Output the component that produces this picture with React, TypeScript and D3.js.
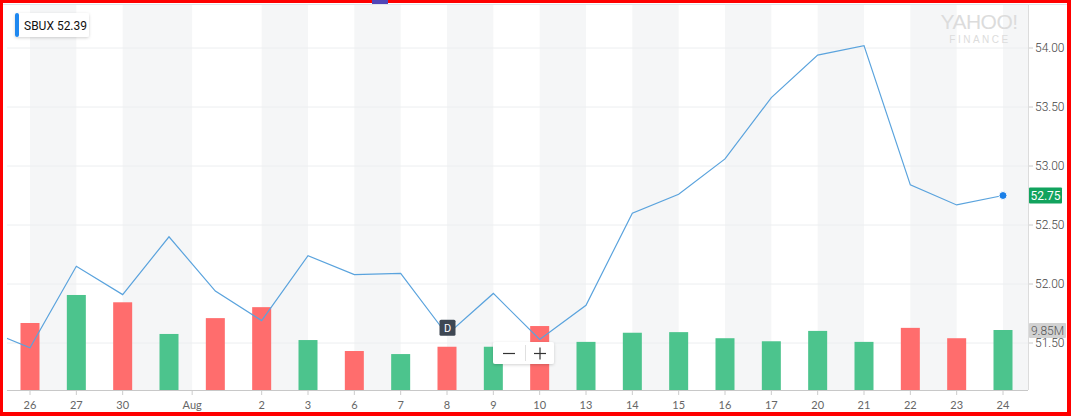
import React from "react";
import * as d3 from "d3";

const dates = ["Jul 26","Jul 27","Jul 30","Jul 31","Aug 1","Aug 2","Aug 3","Aug 6","Aug 7","Aug 8","Aug 9","Aug 10","Aug 13","Aug 14","Aug 15","Aug 16","Aug 17","Aug 20","Aug 21","Aug 22","Aug 23","Aug 24"];
const prevClose = 51.62;
const closes = [51.46,52.15,51.91,52.40,51.94,51.69,52.24,52.08,52.09,51.57,51.92,51.53,51.82,52.60,52.76,53.06,53.58,53.94,54.02,52.84,52.67,52.75];
const volumesM = [11.0,15.6,14.4,9.2,11.8,13.6,8.2,6.4,5.9,7.1,7.1,10.5,7.9,9.4,9.5,8.5,8.0,9.7,7.9,10.2,8.5,9.85];
const tickIndex = [0,1,2,3.5,5,6,7,8,9,10,11,12,13,14,15,16,17,18,19,20,21];
const tickLabels = ["26","27","30","Aug","2","3","6","7","8","9","10","13","14","15","16","17","20","21","22","23","24"];
const priceTicks = [51.5,52.0,52.5,53.0,53.5,54.0];
const dividendIndex = 9;

const W = 1071, H = 416;
const plotL = 7, plotR = 1028, plotT = 5, plotB = 390;

export default function App() {
  const x = d3.scaleLinear().domain([0, dates.length - 1]).range([30, 1003]);
  const y = d3.scaleLinear().domain([51.5, 54]).range([343, 48]);
  const v = d3.scaleLinear().domain([0, 9.85]).range([plotB, 330]);

  const pts: [number, number][] = [[-1, prevClose], ...closes.map((c, i) => [i, c] as [number, number])];
  const line = d3.line<[number, number]>().x(d => x(d[0])).y(d => y(d[1]));

  const bands: { x0: number; x1: number; gray: boolean }[] = [];
  const tickXs = [...tickIndex.map(t => x(t)), plotR];
  for (let i = 0; i < tickXs.length - 1; i++) {
    bands.push({ x0: tickXs[i], x1: tickXs[i + 1], gray: i % 2 === 0 });
  }

  const last = closes.length - 1;
  const barW = 19;

  return (
    <svg width={W} height={H} style={{ position: "absolute", left: 0, top: 0 }} fontFamily="Roboto, 'Helvetica Neue', Arial, sans-serif">
      <defs>
        <clipPath id="plot"><rect x={plotL} y={plotT} width={plotR - plotL} height={plotB - plotT} /></clipPath>
        <filter id="sh" x="-20%" y="-30%" width="140%" height="160%">
          <feDropShadow dx="0" dy="1" stdDeviation="1.5" floodColor="#000" floodOpacity="0.18" />
        </filter>
      </defs>
      <rect x={0} y={0} width={W} height={H} fill="#ff0000" />
      <rect x={3} y={3} width={W - 7} height={H - 7} fill="#ffffff" />
      <line x1={3} x2={W - 4} y1={4.5} y2={4.5} stroke="#dfe5ec" />
      <rect x={372} y={0} width={16} height={4} fill="#5146b8" />

      {bands.map((b, i) => b.gray ? <rect key={i} x={b.x0} y={plotT} width={b.x1 - b.x0} height={plotB - plotT} fill="#f5f6f7" /> : null)}

      {priceTicks.map(p => <line key={p} x1={plotL} x2={plotR} y1={y(p)} y2={y(p)} stroke="#eceef0" />)}

      <g fill="#dcdcdc" textAnchor="middle" fontFamily="Arial, sans-serif" fontWeight={300}>
        <text x={979} y={29} fontSize={21} letterSpacing={-0.5}>YAHOO!</text>
        <text x={980} y={43} fontSize={10} letterSpacing={2.5}>FINANCE</text>
      </g>

      {volumesM.map((vol, i) => {
        const prev = i === 0 ? prevClose : closes[i - 1];
        const up = closes[i] >= prev;
        return <rect key={i} x={x(i) - barW / 2} y={v(vol)} width={barW} height={plotB - v(vol)} fill={up ? "#4cc48d" : "#ff6d6d"} />;
      })}

      <g clipPath="url(#plot)">
        <path d={line(pts) || ""} fill="none" stroke="#5aa3dd" strokeWidth={1.2} />
      </g>

      <line x1={plotL} x2={plotR} y1={plotB + 0.5} y2={plotB + 0.5} stroke="#c8c8c8" />
      <line x1={plotR + 0.5} x2={plotR + 0.5} y1={plotT} y2={plotB} stroke="#dcdcdc" />
      {tickIndex.map((t, i) => (
        <g key={i}>
          <line x1={x(t)} x2={x(t)} y1={plotB + 1} y2={plotB + 5} stroke="#cccccc" />
          <text x={x(t)} y={409} textAnchor="middle" fontSize={11} fill="#666" fontFamily="Lato, sans-serif">{tickLabels[i]}</text>
        </g>
      ))}
      {priceTicks.map(p => (
        <g key={p}>
          <line x1={plotR + 1} x2={plotR + 5} y1={y(p)} y2={y(p)} stroke="#cccccc" />
          <text x={1035} y={y(p) + 4} fontSize={12} fill="#444" fontWeight={300}>{p.toFixed(2)}</text>
        </g>
      ))}

      <rect x={plotR + 1} y={v(volumesM[last]) - 7} width={37} height={15} fill="#d2d2d2" rx={1} />
      <text x={plotR + 19.5} y={v(volumesM[last]) + 4.5} textAnchor="middle" fontSize={12} fill="#555" fontWeight={300}>{volumesM[last].toFixed(2) + "M"}</text>
      <rect x={plotR + 1} y={y(closes[last]) - 8} width={33} height={16} fill="#12a35e" rx={1} />
      <text x={plotR + 17.5} y={y(closes[last]) + 4.5} textAnchor="middle" fontSize={12} fill="#fff">{closes[last].toFixed(2)}</text>
      <circle cx={x(last)} cy={y(closes[last])} r={4} fill="#1a7fe8" stroke="#fff" strokeWidth={1} />

      <rect x={x(dividendIndex) - 7.5} y={y(closes[dividendIndex]) - 15} width={16} height={16} fill="#3e4753" rx={1.5} />
      <text x={x(dividendIndex) + 0.5} y={y(closes[dividendIndex]) - 3} textAnchor="middle" fontSize={11} fill="#fff">D</text>

      <g filter="url(#sh)">
        <rect x={493} y={342} width={61} height={22} fill="#fff" rx={2} />
      </g>
      <line x1={525.5} x2={525.5} y1={345} y2={361} stroke="#e0e0e0" />
      <line x1={503} x2={515} y1={353.5} y2={353.5} stroke="#333" strokeWidth={1.2} />
      <line x1={534} x2={546} y1={353.5} y2={353.5} stroke="#333" strokeWidth={1.2} />
      <line x1={540} x2={540} y1={347.5} y2={359.5} stroke="#333" strokeWidth={1.2} />

      <g filter="url(#sh)">
        <rect x={15} y={13} width={74} height={24} fill="#fff" rx={2} />
      </g>
      <rect x={15} y={13} width={4} height={24} fill="#1e88f0" rx={2} />
      <text x={24} y={30} fontSize={12} fill="#111">SBUX 52.39</text>
    </svg>
  );
}
